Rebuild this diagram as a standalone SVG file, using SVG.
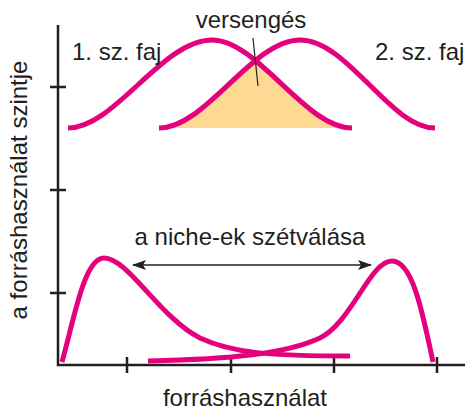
<svg xmlns="http://www.w3.org/2000/svg" width="465" height="411" viewBox="0 0 465 411">
<style>
.c{fill:none;stroke:#E5007D;stroke-width:5;stroke-linecap:butt}
.ax{fill:none;stroke:#231F20;stroke-width:2.5}
.t{font-family:"Liberation Sans",Arial,sans-serif;font-size:24px;fill:#231F20}
</style>
<defs>
<clipPath id="under1"><path d="M68,128 C115,128 162,40 212,40 C258,40 305,128 352,128 Z"/></clipPath>
<marker id="ah" viewBox="0 0 14 10" refX="13" refY="5" markerWidth="14" markerHeight="10" markerUnits="userSpaceOnUse" orient="auto-start-reverse"><path d="M0,0 L14,5 L0,10 L3,5 Z" fill="#231F20"/></marker>
</defs>
<rect width="465" height="411" fill="#fff"/>
<g id="fill"><path d="M159,128 C206,128 252,40 300,40 C348,40 390,128 435,128 Z" fill="#FDDA93" clip-path="url(#under1)"/></g>
<g id="axes">
<path class="ax" d="M58,25 V365 H465"/>
<path class="ax" d="M50,87 H66 M50,190 H66 M50,293 H66 M127,357 V373 M231,357 V373 M334,357 V373 M437,357 V373"/>
</g>
<g id="top-curves">
<path class="c" d="M68,128 C115,128 162,40 212,40 C258,40 305,128 352,128"/>
<path class="c" d="M159,128 C206,128 252,40 300,40 C348,40 390,128 435,128"/>
</g>
<g id="bottom-curves">
<path class="c" d="M62,362 C74,320 84,258 104,258 C128,258 160,318 200,338 C232,353 270,356 350,356"/>
<path class="c" d="M148,361 C232,359 285,354 320,338 C352,322 370,261 392,261 C413,261 423,315 433,362"/>
</g>
<g id="connectors">
<line x1="253" y1="38" x2="258" y2="86" stroke="#231F20" stroke-width="1.2"/>
<line x1="133" y1="265" x2="371" y2="265" stroke="#231F20" stroke-width="1.3" marker-start="url(#ah)" marker-end="url(#ah)"/>
</g>
<g id="labels">
<text class="t" x="251" y="28" text-anchor="middle">versengés</text>
<text class="t" x="72" y="60">1. sz. faj</text>
<text class="t" x="375" y="60">2. sz. faj</text>
<text class="t" x="250" y="245" text-anchor="middle">a niche-ek szétválása</text>
<text class="t" x="245" y="406" text-anchor="middle">forráshasználat</text>
<text class="t" transform="translate(27,190) rotate(-90)" text-anchor="middle">a forráshasználat szintje</text>
</g>
</svg>
